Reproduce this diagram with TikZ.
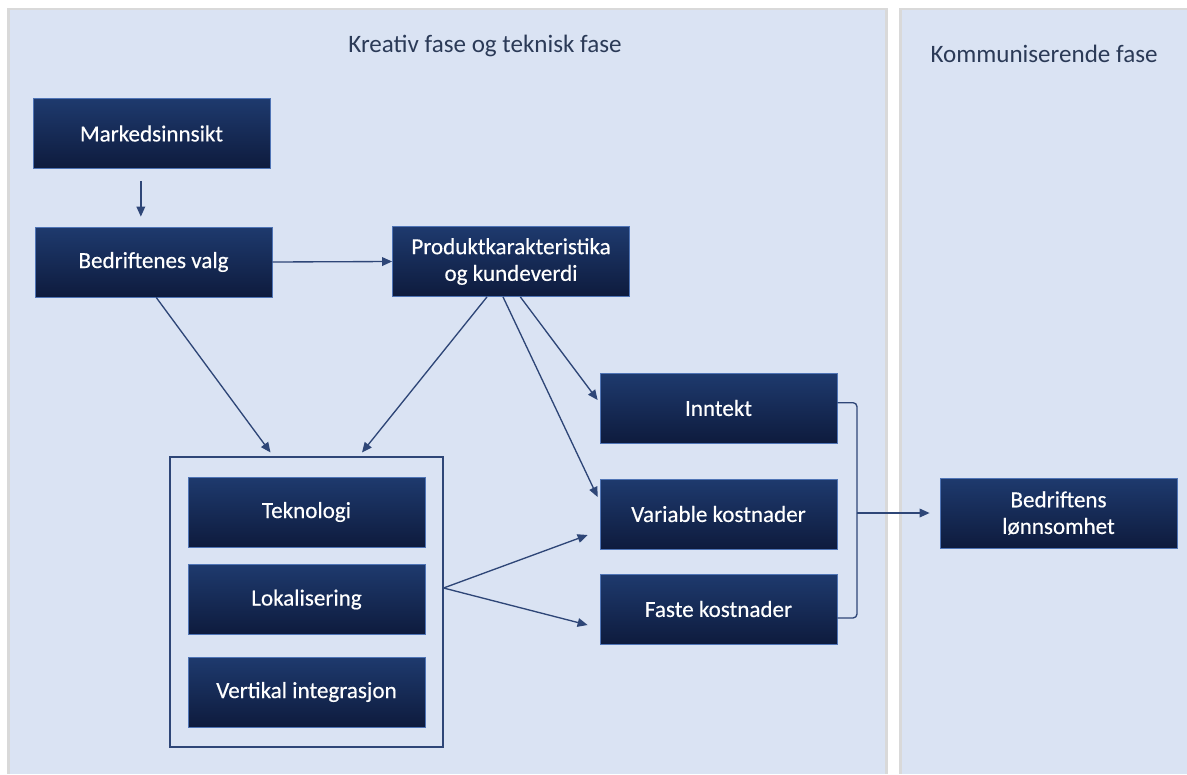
\documentclass[tikz,border=0pt]{standalone}
\usepackage{fontspec}
\setmainfont{Carlito}
\newfontfamily\heavyfont[FakeBold=0.35]{Carlito}
\usetikzlibrary{arrows.meta,positioning}
\definecolor{panelbg}{HTML}{DAE3F3}
\definecolor{boxtop}{HTML}{1E3A6E}
\definecolor{boxbot}{HTML}{0E1B3D}
\definecolor{boxline}{HTML}{4F74B5}
\definecolor{arrowcol}{HTML}{2E4677}
\definecolor{titlecol}{HTML}{2B3A57}
\def\boxw{177.75pt}
\def\boxh{52.5pt}

\begin{document}
\begin{tikzpicture}[x=0.75pt,y=-0.75pt,>={Triangle[length=7.5pt,width=6.5pt]},
    font=\heavyfont\fontsize{17.3}{20}\selectfont]
    \tikzstyle{panel}=[fill=panelbg,draw=none]
    \tikzstyle{stage}=[rectangle,draw=boxline,line width=0.6pt,top color=boxtop,bottom color=boxbot,
        text=white,minimum width=\boxw,minimum height=\boxh,inner sep=2pt,align=center]
    \tikzstyle{group}=[rectangle,draw=arrowcol,line width=0.8pt,minimum width=204.75pt,minimum height=217.5pt]
    \tikzstyle{link}=[->,draw=arrowcol,line width=1pt]
    \tikzstyle{brace}=[draw=arrowcol,line width=1pt,rounded corners=3pt]
    \tikzstyle{title}=[text=titlecol,font=\fontsize{18.8}{22}\selectfont]

    \useasboundingbox (0,0) rectangle (1187,774);

    % Draw the two phase panels
    \fill[white] (0,0) rectangle (1187,774);
    \fill[gray!30] (7,8) rectangle (888,774);
    \fill[gray!30] (899,8) rectangle (1187,774);
    \path[panel] (10,10) rectangle (885,774);
    \path[panel] (902,10) rectangle (1187,774);

    \node[title] (kt) at (485,46) {Kreativ fase og teknisk fase};
    \node[title] (kf) at (1044,54) {Kommuniserende fase};

    % Draw the boxes
    \node[stage] (mi) at (151.5,133.5) {Markedsinnsikt};
    \node[stage] (bv) at (153.5,262) {Bedriftenes valg};
    \node[stage] (pk) at (511,261.5) {Produktkarakteristika\\og kundeverdi};
    \node[stage] (in) at (718.5,408) {Inntekt};
    \node[stage] (vk) at (718.5,514) {Variable kostnader};
    \node[stage] (fk) at (718.5,609) {Faste kostnader};
    \node[group] (grp) at (306.5,602) {};
    \node[stage] (te) at (306.5,512) {Teknologi};
    \node[stage] (lo) at (306.5,599.5) {Lokalisering};
    \node[stage] (vi) at (306.5,692) {Vertikal integrasjon};
    \node[stage] (bl) at (1058.5,513) {Bedriftens\\lønnsomhet};

    % Connect the boxes
    \draw[link,shorten <=9pt,shorten >=7.5pt] ([xshift=-8pt]mi.south) -- ([xshift=-8pt]mi.south |- bv.north);
    \draw[link] (bv.east) -- (pk.west);
    \draw[link] ([xshift=2pt]bv.south) -- ([xshift=-27pt,yshift=3pt]grp.north);
    \draw[link] ([xshift=-18pt]pk.south) -- ([xshift=41.6pt,yshift=3pt]grp.north);
    \draw[link] ([xshift=7pt]pk.south) -- ([xshift=-1.5pt,yshift=6pt]in.west);
    \draw[link] ([xshift=-6pt]pk.south) -- ([xshift=-1.5pt,yshift=12.75pt]vk.west);
    \draw[link] ([yshift=10.5pt]grp.east) -- ([xshift=-9pt,yshift=-15.75pt]vk.west);
    \draw[link] ([yshift=10.5pt]grp.east) -- ([xshift=-9pt,yshift=-12pt]fk.west);

    % Gather the results into profitability
    \coordinate (br) at (857,513);
    \draw[brace] ([yshift=4pt]in.east) -| (br);
    \draw[brace] ([yshift=-6.75pt]fk.east) -| (br);
    \draw[link,shorten >=7.5pt] (br) -- (bl.west);
\end{tikzpicture}
\end{document}
